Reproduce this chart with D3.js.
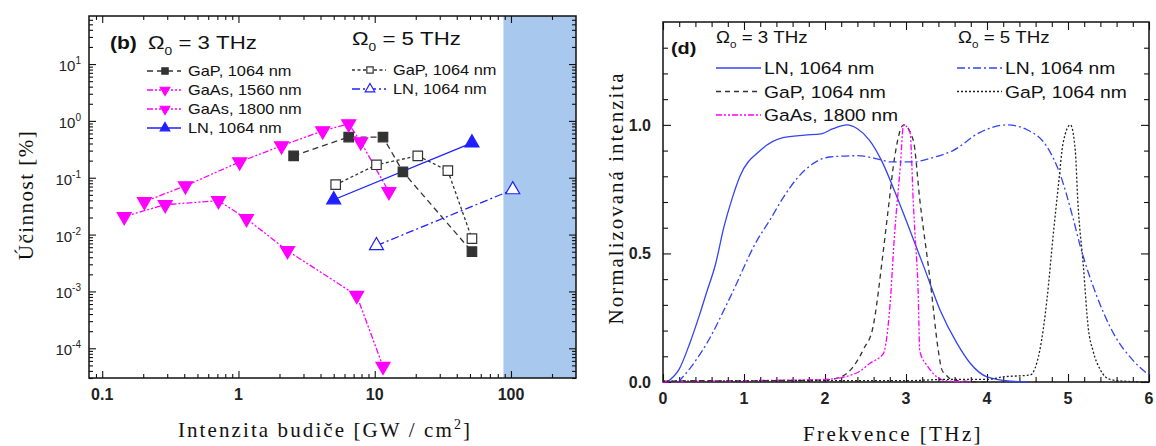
<!DOCTYPE html>
<html>
<head>
<meta charset="utf-8">
<script src="https://cdnjs.cloudflare.com/ajax/libs/d3/7.8.5/d3.min.js"></script>
<style>
	body { margin: 0; background: #fff; }
	svg { display: block; }
	.lab { font-family: "Liberation Sans", Arial, sans-serif; fill: #222; }
	.ttl { font-family: "Liberation Serif", "Times New Roman", serif; fill: #111; }
</style>
</head>
<body>
<svg id="chart"></svg>
<script>
// ---- panel (b): efficiency vs pump intensity ----
const gap3X = [2.54, 6.44, 11.5, 16.1, 51.7];
const gap3Y = [0.243, 0.52, 0.52, 0.127, 0.0050];
const gap5X = [5.17, 10.3, 20.7, 34.4, 51.7];
const gap5Y = [0.0754, 0.169, 0.243, 0.133, 0.0085];
const ln3X = [5.0, 51.7];
const ln3Y = [0.041, 0.41];
const ln5X = [10.3, 103];
const ln5Y = [0.0064, 0.0616];
const gaas1560X = [0.145, 0.29, 0.713, 1.145, 2.29, 7.37, 11.5];
const gaas1560Y = [0.0207, 0.0336, 0.0395, 0.019, 0.0052, 0.00085, 0.000048];
const gaas1800X = [0.204, 0.408, 1.02, 2.07, 4.15, 6.44, 7.89, 12.7];
const gaas1800Y = [0.038, 0.072, 0.19, 0.364, 0.668, 0.886, 0.428, 0.0568];
const shadeRange = [88, 300];
const xTicksB = [0.1, 1, 10, 100];
const yTicksB = [-4, -3, -2, -1, 0, 1];

// ---- panel (d): normalised spectra ----
const lnSpec3F = [0.05, 0.2, 0.33, 0.45, 0.54, 0.65, 0.75, 0.85, 0.95, 1.2, 1.48, 1.75, 1.95, 2.1, 2.27, 2.4, 2.55, 2.7, 2.85, 3.0, 3.23, 3.42, 3.63, 3.79, 4.0, 4.3, 4.5];
const lnSpec3V = [0, 0.05, 0.15, 0.26, 0.35, 0.46, 0.6, 0.71, 0.8, 0.9, 0.95, 0.96, 0.965, 0.985, 1.0, 0.985, 0.94, 0.86, 0.75, 0.63, 0.44, 0.28, 0.15, 0.074, 0.02, 0.003, 0];
const gapSpec3F = [0, 0.5, 1.0, 1.5, 2.0, 2.2, 2.35, 2.48, 2.59, 2.72, 2.78, 2.86, 2.97, 3.09, 3.17, 3.3, 3.4, 3.44, 3.5, 3.55, 3.7, 4.0];
const gapSpec3V = [0.003, 0.005, 0.004, 0.006, 0.008, 0.02, 0.06, 0.13, 0.21, 0.51, 0.67, 0.875, 1.0, 0.94, 0.71, 0.39, 0.12, 0.05, 0.025, 0.012, 0.003, 0];
const gaasSpecF = [0, 1.0, 2.0, 2.39, 2.56, 2.72, 2.8, 2.86, 2.93, 2.97, 3.05, 3.09, 3.11, 3.15, 3.17, 3.27, 3.38, 3.5, 3.8];
const gaasSpecV = [0, 0.005, 0.01, 0.035, 0.074, 0.11, 0.29, 0.58, 0.84, 1.0, 0.97, 0.7, 0.58, 0.35, 0.12, 0.06, 0.02, 0.005, 0];
const lnSpec5F = [0.19, 0.35, 0.54, 0.83, 1.16, 1.32, 1.47, 1.65, 2.06, 2.4, 2.68, 2.8, 3.09, 3.3, 3.58, 3.91, 4.25, 4.5, 4.74, 4.9, 5.06, 5.15, 5.36, 5.56, 5.8, 6.0];
const lnSpec5V = [0, 0.06, 0.15, 0.33, 0.55, 0.63, 0.71, 0.79, 0.875, 0.88, 0.865, 0.856, 0.856, 0.87, 0.9, 0.97, 1.0, 0.98, 0.915, 0.81, 0.64, 0.53, 0.33, 0.19, 0.085, 0.027];
const gapSpec5F = [0, 1, 2, 3, 3.5, 4.0, 4.2, 4.53, 4.65, 4.74, 4.82, 4.88, 4.94, 5.03, 5.09, 5.12, 5.19, 5.25, 5.31, 5.4, 5.52, 5.7, 6.0];
const gapSpec5V = [0.003, 0.004, 0.005, 0.005, 0.01, 0.01, 0.02, 0.027, 0.12, 0.32, 0.58, 0.76, 0.93, 1.0, 0.9, 0.71, 0.45, 0.21, 0.12, 0.047, 0.01, 0.003, 0];
const xTicksD = [0, 1, 2, 3, 4, 5, 6];
const yTicksD = [0, 0.5, 1.0];

const W = 1156, H = 446;
const svg = d3.select("#chart").attr("width", W).attr("height", H);

const BLUE = "#1f1fff", MAG = "#ff00ff", DARK = "#333";
const dashes = { dash: "6,4", dot: "3,2.5", dashdot: "8,3,2,3", dashdotdot: "6,2,2,2,2,2" };
const SX = 1.17; // the source picture is stretched a bit horizontally

function zip(xs, ys) { return xs.map((x, i) => [x, ys[i]]); }

// text placed at (x,y) and widened like the reference
function wideText(g, x, y, size) {
	return g.append("text").attr("class", "lab")
		.attr("transform", `translate(${x},${y}) scale(${SX},1)`)
		.attr("font-size", size).style("fill", "#111");
}

function marker(g, type, x, y, size, color, filled) {
	const sym = type === "square" ? d3.symbolSquare : d3.symbolTriangle;
	g.append("path")
		.attr("d", d3.symbol(sym, size)())
		.attr("transform", `translate(${x},${y})` + (type === "down" ? " rotate(180)" : ""))
		.attr("fill", filled ? color : "#fff")
		.attr("stroke", color)
		.attr("stroke-width", 1.2);
}

// ================= panel (b) =================
const bL = 89, bR = 576, bT = 16, bB = 378;
const xB = d3.scaleLog().domain([0.08, 300]).range([bL, bR]);
const yB = d3.scaleLog().domain([3e-5, 70]).range([bB, bT]);
const gB = svg.append("g");

gB.append("rect")
	.attr("x", xB(shadeRange[0])).attr("y", bT)
	.attr("width", xB(shadeRange[1]) - xB(shadeRange[0])).attr("height", bB - bT)
	.attr("fill", "#a9c8ee");

// minor ticks for log axes
const xMinorB = [];
[0.01, 0.1, 1, 10, 100].forEach(d => { for (let k = 2; k <= 9; k++) { const v = d * k; if (v > 0.08 && v < 300) xMinorB.push(v); } });
const yMinorB = [];
d3.range(-5, 2).forEach(e => { for (let k = 2; k <= 9; k++) { const v = k * Math.pow(10, e); if (v > 3e-5 && v < 70) yMinorB.push(v); } });
const yMajorB = yTicksB.map(e => Math.pow(10, e));

// inward ticks on all four sides plus the frame
function axisSet(g, x, y, L, R, T, B, xMaj, xMin, yMaj, yMin, maj, mn) {
	const sides = [
		[d3.axisBottom(x), `translate(0,${B})`, xMaj, xMin],
		[d3.axisTop(x), `translate(0,${T})`, xMaj, xMin],
		[d3.axisLeft(y), `translate(${L},0)`, yMaj, yMin],
		[d3.axisRight(y), `translate(${R},0)`, yMaj, yMin]
	];
	sides.forEach(([ax, tr, majV, minV]) => {
		[[majV, maj], [minV, mn]].forEach(([vals, len]) => {
			const a = g.append("g").attr("transform", tr)
				.call(ax.tickValues(vals).tickSizeInner(-len).tickSizeOuter(0).tickFormat(""));
			a.select(".domain").remove();
			a.selectAll("line").attr("stroke", "#111").attr("stroke-width", 1.1);
		});
	});
	g.append("rect").attr("x", L).attr("y", T).attr("width", R - L).attr("height", B - T)
		.attr("fill", "none").attr("stroke", "#111").attr("stroke-width", 1.5);
}
axisSet(gB, xB, yB, bL, bR, bT, bB, xTicksB, xMinorB, yMajorB, yMinorB, 7, 4);

gB.selectAll(".xl").data(xTicksB).enter().append("text")
	.attr("class", "lab").attr("x", d => xB(d)).attr("y", 400)
	.attr("text-anchor", "middle").attr("font-size", 16).attr("font-weight", "bold")
	.text(d => d);
yTicksB.forEach(e => {
	const t = gB.append("text").attr("class", "lab").attr("x", 81).attr("y", yB(Math.pow(10, e)) + 7)
		.attr("text-anchor", "end").attr("font-size", 15);
	t.append("tspan").text("10");
	t.append("tspan").attr("font-size", 10).attr("dy", -7).text(e);
});

const lineB = d3.line().x(d => xB(d[0])).y(d => yB(d[1]));
const seriesB = [
	{ x: gap3X, y: gap3Y, c: DARK, dash: dashes.dash, m: "square", f: true },
	{ x: gap5X, y: gap5Y, c: DARK, dash: dashes.dot, m: "square", f: false },
	{ x: gaas1560X, y: gaas1560Y, c: MAG, dash: dashes.dashdotdot, m: "down", f: true },
	{ x: gaas1800X, y: gaas1800Y, c: MAG, dash: dashes.dashdotdot, m: "down", f: true },
	{ x: ln3X, y: ln3Y, c: BLUE, dash: null, m: "up", f: true },
	{ x: ln5X, y: ln5Y, c: BLUE, dash: dashes.dashdot, m: "up", f: false }
];
seriesB.forEach(s => {
	gB.append("path").attr("d", lineB(zip(s.x, s.y))).attr("fill", "none")
		.attr("stroke", s.c).attr("stroke-width", 1.3).attr("stroke-dasharray", s.dash);
});
seriesB.forEach(s => {
	zip(s.x, s.y).forEach(p => marker(gB, s.m, xB(p[0]), yB(p[1]), s.m === "square" ? 90 : 85, s.c, s.f));
});

// panel (b) legend
function omega(g, x, y, size, txt) {
	const t = wideText(g, x, y, size);
	t.append("tspan").text("Ω");
	t.append("tspan").attr("font-size", size * 0.62).attr("dy", size * 0.3).text("0");
	t.append("tspan").attr("dy", -size * 0.3).text(" = " + txt);
}
wideText(gB, 110, 49, 18).attr("font-weight", "bold").text("(b)");
omega(gB, 148, 49, 19, "3 THz");
omega(gB, 352, 45, 19, "5 THz");

const legB = [
	{ s: seriesB[0], label: "GaP, 1064 nm", x: 147, y: 71 },
	{ s: seriesB[2], label: "GaAs, 1560 nm", x: 147, y: 90 },
	{ s: seriesB[3], label: "GaAs, 1800 nm", x: 147, y: 109 },
	{ s: seriesB[4], label: "LN, 1064 nm", x: 147, y: 128 },
	{ s: seriesB[1], label: "GaP, 1064 nm", x: 352, y: 70 },
	{ s: seriesB[5], label: "LN, 1064 nm", x: 352, y: 89 }
];
legB.forEach(l => {
	gB.append("line").attr("x1", l.x).attr("x2", l.x + 34).attr("y1", l.y).attr("y2", l.y)
		.attr("stroke", l.s.c).attr("stroke-width", 1.3).attr("stroke-dasharray", l.s.dash);
	marker(gB, l.s.m, l.x + 18, l.y, 40, l.s.c, l.s.f);
	wideText(gB, l.x + 41, l.y + 5, 14).text(l.label);
});

gB.append("text").attr("class", "ttl").attr("font-size", 21).attr("letter-spacing", 1.5)
	.attr("transform", "translate(33,195) rotate(-90)").attr("text-anchor", "middle")
	.text("Účinnost [%]");
const xt = gB.append("text").attr("class", "ttl").attr("font-size", 21).attr("letter-spacing", 2.1)
	.attr("x", 325).attr("y", 437).attr("text-anchor", "middle");
xt.append("tspan").text("Intenzita budiče [GW / cm");
xt.append("tspan").attr("font-size", 14).attr("dy", -8).text("2");
xt.append("tspan").attr("dy", 8).text("]");

// ================= panel (d) =================
const dL = 663, dR = 1149, dT = 22, dB = 382;
const xD = d3.scaleLinear().domain([0, 6]).range([dL, dR]);
const yD = d3.scaleLinear().domain([0, 1.4]).range([dB, dT]);
const gD = svg.append("g");

const xMinorD = d3.range(0, 30).map(i => i * 0.2).filter(v => Math.abs(v - Math.round(v)) > 1e-6);
const yMinorD = d3.range(1, 14).map(i => i / 10).filter(v => Math.abs(v * 2 - Math.round(v * 2)) > 1e-6);
axisSet(gD, xD, yD, dL, dR, dT, dB, xTicksD, xMinorD, yTicksD, yMinorD, 8, 5);

gD.selectAll(".xl").data(xTicksD).enter().append("text")
	.attr("class", "lab").attr("x", d => xD(d)).attr("y", 404)
	.attr("text-anchor", "middle").attr("font-size", 16).attr("font-weight", "bold")
	.text(d => d);
gD.selectAll(".yl").data(yTicksD).enter().append("text")
	.attr("class", "lab").attr("x", 651).attr("y", d => yD(d) + 6)
	.attr("text-anchor", "end").attr("font-size", 16).attr("font-weight", "bold")
	.text(d => d.toFixed(1));

const lineD = d3.line().x(d => xD(d[0])).y(d => yD(d[1])).curve(d3.curveMonotoneX);
const seriesD = [
	{ f: lnSpec3F, v: lnSpec3V, c: "#3344f0", dash: null, label: "LN, 1064 nm", x: 716, y: 68 },
	{ f: gapSpec3F, v: gapSpec3V, c: DARK, dash: "5,4", label: "GaP, 1064 nm", x: 716, y: 91.5 },
	{ f: gaasSpecF, v: gaasSpecV, c: MAG, dash: dashes.dashdotdot, label: "GaAs, 1800 nm", x: 716, y: 115 },
	{ f: lnSpec5F, v: lnSpec5V, c: "#3344f0", dash: dashes.dashdot, label: "LN, 1064 nm", x: 957, y: 68 },
	{ f: gapSpec5F, v: gapSpec5V, c: "#222", dash: "2,2", label: "GaP, 1064 nm", x: 957, y: 91.5 }
];
seriesD.forEach(s => {
	gD.append("path").attr("d", lineD(zip(s.f, s.v))).attr("fill", "none")
		.attr("stroke", s.c).attr("stroke-width", 1.3).attr("stroke-dasharray", s.dash);
	gD.append("line").attr("x1", s.x).attr("x2", s.x + 45).attr("y1", s.y).attr("y2", s.y)
		.attr("stroke", s.c).attr("stroke-width", 1.3).attr("stroke-dasharray", s.dash);
	wideText(gD, s.x + 48, s.y + 6, 16.5).text(s.label);
});

wideText(gD, 671, 54, 17).attr("font-weight", "bold").text("(d)");
omega(gD, 716, 43, 16, "3 THz");
omega(gD, 958, 43, 16, "5 THz");

gD.append("text").attr("class", "ttl").attr("font-size", 21).attr("letter-spacing", 2.0)
	.attr("transform", "translate(623,198) rotate(-90)").attr("text-anchor", "middle")
	.text("Normalizovaná intenzita");
gD.append("text").attr("class", "ttl").attr("font-size", 21).attr("letter-spacing", 2.4)
	.attr("x", 893).attr("y", 441).attr("text-anchor", "middle")
	.text("Frekvence [THz]");
</script>
</body>
</html>
